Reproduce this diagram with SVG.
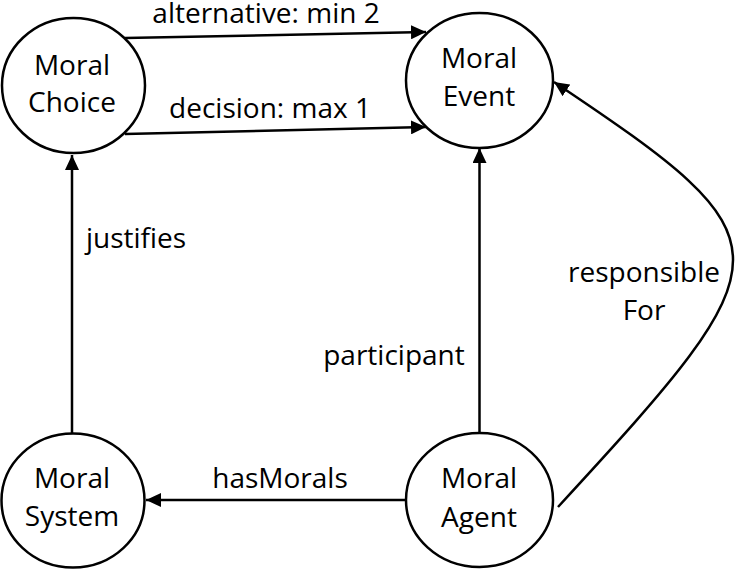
<svg xmlns="http://www.w3.org/2000/svg" width="738" height="569" viewBox="0 0 738 569">
<style>
  .node { fill: #ffffff; stroke: #000000; stroke-width: 2.5; }
  .edge { fill: none; stroke: #000000; stroke-width: 2.5; marker-end: url(#arrow); }
  text { font-family: "Open Sans", "Noto Sans", "Liberation Sans", sans-serif; font-size: 28px; fill: #000000; text-anchor: middle; }
</style>
<defs>
  <marker id="arrow" markerUnits="userSpaceOnUse" markerWidth="16" markerHeight="14" refX="15" refY="7" orient="auto">
    <path d="M0,0 L15,7 L0,14 z" fill="#000000"/>
  </marker>
</defs>
<rect width="738" height="569" fill="#ffffff"/>
<g id="connectors">
  <g id="e-alternative">
    <path class="edge" d="M125,38 L426,32"/>
    <text x="266" y="23">alternative: min 2</text>
  </g>
  <g id="e-decision">
    <path class="edge" d="M125,134 L426,127"/>
    <text x="270" y="118">decision: max 1</text>
  </g>
  <g id="e-justifies">
    <path class="edge" d="M72,433 L72,155"/>
    <text x="136" y="248">justifies</text>
  </g>
  <g id="e-participant">
    <path class="edge" d="M479.5,433 L479.5,148"/>
    <text x="394" y="365">participant</text>
  </g>
  <g id="e-hasMorals">
    <path class="edge" d="M406,500 L146,500"/>
    <text x="280" y="488">hasMorals</text>
  </g>
  <g id="e-responsibleFor">
    <path class="edge" d="M558,507 C791,254 793,242 554,82"/>
    <text x="644" y="282">responsible</text>
    <text x="644" y="320">For</text>
  </g>
</g>
<g id="n-choice">
  <ellipse class="node" cx="73.5" cy="85.5" rx="71.5" ry="67.5"/>
  <text x="72" y="75">Moral</text>
  <text x="72" y="112">Choice</text>
</g>
<g id="n-event">
  <ellipse class="node" cx="479.5" cy="80.5" rx="73.5" ry="67.5"/>
  <text x="479" y="68">Moral</text>
  <text x="479" y="106">Event</text>
</g>
<g id="n-system">
  <ellipse class="node" cx="73" cy="500.5" rx="71.5" ry="67"/>
  <text x="72" y="488">Moral</text>
  <text x="72" y="526">System</text>
</g>
<g id="n-agent">
  <ellipse class="node" cx="479.5" cy="500" rx="73.5" ry="67"/>
  <text x="479" y="488">Moral</text>
  <text x="479" y="527">Agent</text>
</g>
</svg>
